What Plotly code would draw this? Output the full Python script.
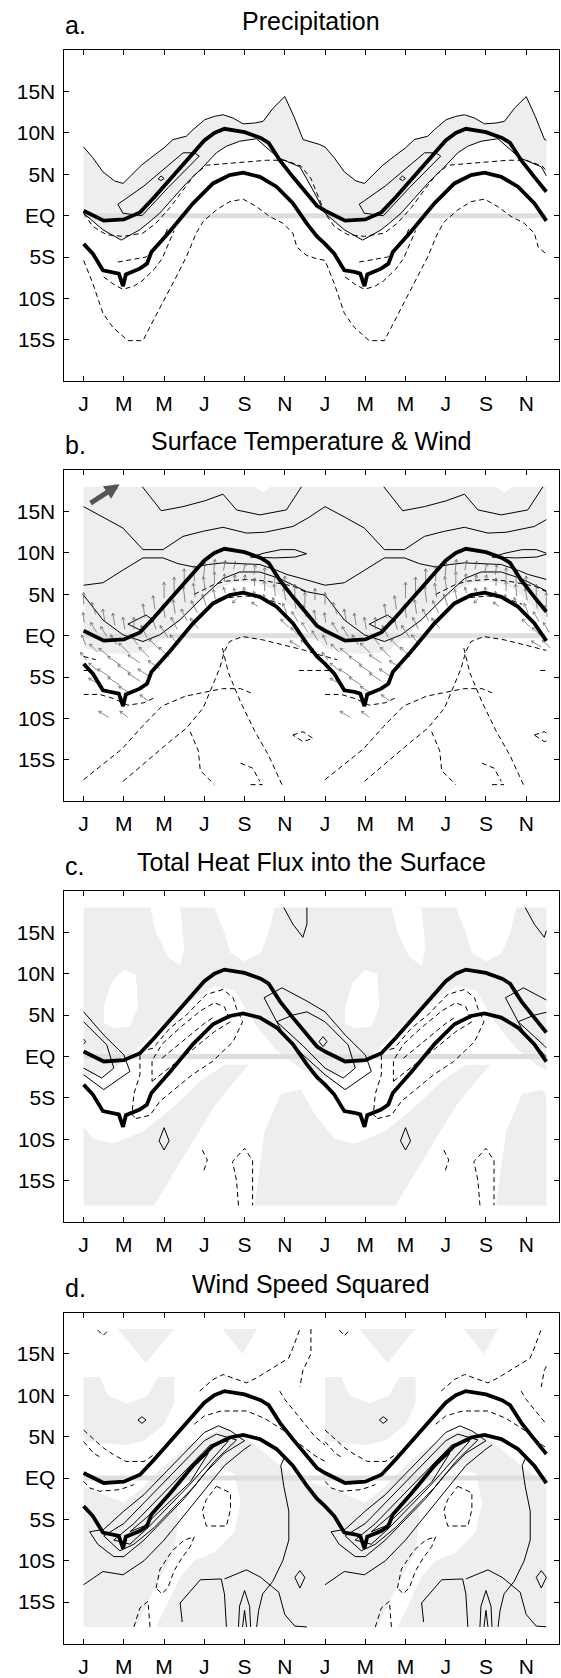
import math
import plotly.graph_objects as go

# ---------------- axis / text data ----------------
MONTH_TICKS = [0, 2, 4, 6, 8, 10, 12, 14, 16, 18, 20, 22]
MONTH_LABELS = ["J", "M", "M", "J", "S", "N", "J", "M", "M", "J", "S", "N"]
LAT_TICKS = [15, 10, 5, 0, -5, -10, -15]
LAT_LABELS = ["15N", "10N", "5N", "EQ", "5S", "10S", "15S"]
PANEL_TITLES = ["Precipitation", "Surface Temperature & Wind",
                "Total Heat Flux into the Surface", "Wind Speed Squared"]
PANEL_LETTERS = ["a.", "b.", "c.", "d."]
FIRST_MONTH, LAST_MONTH = 0.0, 23.0
DATA_TOP, DATA_BOTTOM = 18.0, -18.0

# ---------------- ITCZ edges (one annual cycle, month, latitude) ----------------
NORTH_EDGE = [(0, 0.6), (1, -0.6), (2, -0.45), (2.8, 0.4), (3.5, 2.2), (4, 3.6), (5, 6.3),
              (6, 9.1), (6.5, 10.0), (7, 10.5), (8, 10.1), (8.8, 9.4), (9.2, 8.8), (9.75, 6.7),
              (10.4, 4.7), (11.1, 2.6), (11.6, 1.2)]
SOUTH_EDGE = [(0, -3.4), (0.46, -4.6), (0.96, -6.6), (1.46, -6.8), (1.75, -7.0), (1.96, -8.5),
              (2.1, -7.1), (2.79, -6.4), (3.15, -5.8), (3.37, -4.4), (4.28, -1.9), (5.44, 1.5),
              (6.43, 3.9), (7.26, 4.9), (7.93, 5.2), (8.76, 4.7), (9.59, 3.5), (10.4, 1.5),
              (11.08, -0.9), (11.6, -2.5)]

# ---------------- a. Precipitation ----------------
A_OUTER = [(0, 8.3), (0.46, 7.0), (0.96, 5.3), (1.54, 4.2), (1.96, 3.9), (2.37, 4.9), (2.87, 6.1),
           (3.45, 7.2), (4.0, 8.2), (4.44, 9.2), (5.1, 9.6), (5.44, 10.4), (6.02, 11.6), (6.5, 12.0),
           (6.93, 12.2), (7.43, 11.8), (7.93, 11.1), (8.5, 11.2), (8.92, 11.4), (9.42, 13.0),
           (10.0, 14.4), (10.45, 12.0), (10.91, 9.2), (11.74, 8.6)]
A_INNER = [(0, 0.3), (0.96, -1.7), (1.87, -2.95), (2.79, -1.7), (3.2, -0.9), (3.78, 0.3),
           (4.44, 2.1), (5.1, 3.9), (5.94, 5.9), (6.6, 7.6), (7.1, 8.4), (7.76, 9.0), (8.59, 9.3),
           (9.67, 7.0), (10.75, 5.9), (11.4, 3.1)]
A_PARA = [(1.7, 1.4), (1.95, 0.3), (2.9, 0.0), (4.2, 3.4), (5.75, 7.2), (5.5, 7.6), (4.95, 7.6),
          (3.0, 3.6), (1.95, 1.8), (1.7, 1.4)]
A_DIAMOND = [(3.7, 4.45), (3.85, 4.8), (4.0, 4.5), (3.85, 4.25), (3.7, 4.45)]
A_DASH_OUTER = [(0, -5.4), (0.46, -8.2), (0.96, -11.8), (1.46, -13.5), (2.2, -15.1), (2.95, -15.1),
                (3.37, -13.1), (4.1, -9.8), (4.6, -7.4), (5.1, -5.0), (5.6, -2.1), (5.94, -0.7),
                (6.6, 0.7), (7.26, 1.7), (7.93, 2.0), (8.59, 1.1), (9.25, -0.1), (9.9, -0.9),
                (10.4, -2.1), (10.6, -3.8), (11.08, -4.8), (11.58, -5.2)]
A_DASH_MID = [(0, 0.3), (0.46, -1.3), (1.13, -2.3), (1.96, -2.5), (2.95, -2.1), (3.6, -0.9),
              (4.3, 1.0), (4.9, 3.0), (5.5, 4.9), (6.1, 6.1), (7.1, 6.3), (8.1, 6.5), (9.1, 6.7),
              (10.0, 6.7), (10.8, 6.0), (11.3, 4.5), (11.7, 2.0)]
A_DASH_LOW = [(1.0, -7.4), (1.5, -8.3), (1.96, -8.9), (2.5, -8.5), (2.9, -7.9), (3.5, -6.5),
              (3.9, -5.2), (4.3, -3.0), (4.5, -1.8)]
A_DASH_SEG = [(1.7, -5.6), (2.4, -5.3), (3.1, -5.0), (3.5, -4.2), (4.0, -2.6), (4.2, -1.4)]

# ---------------- b. Surface temperature & wind ----------------
B_SHADE_LOW = [(0, -1.5), (1.0, -2.1), (2.0, -2.2), (3.0, -2.0), (3.6, -1.0), (4.5, 1.0),
               (5.5, 3.5), (6.5, 5.5), (7.5, 6.5), (8.5, 6.5), (9.5, 5.5), (10.5, 3.0), (11.3, 0.5)]
B_SHADE_TOP = [(0, 18), (8.5, 18), (8.9, 17.3), (9.3, 18)]
B_S1 = [(2.92, 18), (3.86, 15.1), (4.94, 15.6), (6.02, 16.3), (6.93, 17.1), (7.6, 15.2),
        (8.76, 14.6), (10.08, 15.2), (10.83, 18)]
B_S2 = [(0, 15.6), (1.0, 14.3), (1.96, 13.0), (2.95, 10.4), (3.95, 10.4), (4.94, 12.0),
        (5.9, 12.6), (6.93, 13.1), (8.1, 12.4), (9.0, 12.5), (10.4, 13.2), (11.2, 14.3)]
B_S3 = [(0, 6.1), (0.96, 6.4), (2.0, 8.0), (2.95, 9.4), (3.95, 9.4), (4.7, 8.7), (5.5, 8.3),
        (6.2, 8.6), (6.93, 8.8), (8.76, 8.6), (9.6, 7.9), (10.1, 7.4), (11.0, 6.8)]
B_S4 = [(0, 4.9), (0.96, 1.9), (1.96, 0.1), (2.95, -0.7), (3.78, 0.1), (4.78, 1.9), (5.94, 4.7),
        (6.93, 6.9), (7.76, 7.7), (8.76, 7.7), (9.75, 6.9), (11.1, 5.3)]
B_LENS = [(8.3, 9.5), (9.0, 10.0), (9.8, 10.4), (10.5, 10.4), (11.08, 9.9), (10.5, 9.5),
          (9.5, 9.4), (8.3, 9.5)]
B_PARA = [(2.2, 1.4), (3.1, 2.5), (3.5, 1.8), (2.8, 0.7), (2.2, 1.4)]
B_DASHES = [
    [(0, -17.4), (1.0, -15.5), (1.9, -13.7), (2.9, -11.0), (3.9, -8.5), (5.06, -7.3),
     (6.0, -6.8), (6.9, -6.4), (7.8, -6.4), (8.3, -6.9)],
    [(1.96, -17.6), (3.1, -15.2), (4.28, -12.8), (5.1, -11.2), (5.94, -8.75), (6.43, -5.9),
     (6.77, -3.9), (7.0, -1.9), (7.26, -0.7), (7.9, -0.1), (8.9, -0.5), (9.9, -1.1),
     (10.9, -1.7), (11.7, -2.3), (12.6, -2.9)],
    [(6.9, -1.5), (7.2, -4.5), (7.8, -8.0), (8.5, -11.5), (9.2, -14.5), (9.86, -18.0)],
    [(5.3, -11.6), (5.7, -13.9), (5.8, -16.3), (6.5, -18.0)],
    [(7.8, -15.4), (8.4, -16.0), (8.76, -17.6)],
    [(8.3, -18.0), (8.9, -18.0)],
    [(0, -7.1), (0.8, -7.1), (1.5, -7.6), (2.2, -8.4), (3.0, -8.1), (3.6, -7.4)],
    [(10.7, -4.2), (12.4, -4.2)],
    [(10.4, -12.0), (10.9, -11.6), (11.4, -12.4), (10.9, -12.8), (10.4, -12.0)],
    [(5.5, 5.0), (6.5, 6.2), (7.1, 6.6), (8.1, 6.8), (9.1, 6.6), (10.4, 6.0), (11.1, 5.2)],
    [(6.4, 4.0), (7.2, 4.6), (8.1, 4.8), (9.0, 4.5), (9.8, 3.8)],
]
# wind vectors: month, latitude, u (eastward), v (northward) in m/s
WIND = [
    (0.0, 4.5, 0, 3), (0.0, 2.2, -0.3, 2.5), (0.0, -0.5, -1, 2.5), (0.0, -2.5, -1.5, 2),
    (0.5, 3.3, -1, 3), (0.5, 1.0, -1.5, 2.5), (0.5, -1.5, -2, 2), (0.5, -3.8, -2.5, 2),
    (0.5, -5.5, -2.5, 1.5), (1.0, 2.5, -0.5, 3), (1.0, 0.5, -1.5, 2.5), (1.0, -2.0, -2.5, 2),
    (1.0, -4.5, -3, 2), (1.0, -9.5, -2.5, 1.5), (1.5, 2.0, -0.5, 3), (1.5, -0.5, -1.5, 2.5),
    (1.5, -3.0, -3, 2), (1.5, -5.5, -3, 2), (2.0, 1.5, -0.5, 3), (2.0, -1.5, -2.5, 2.5),
    (2.0, -4.0, -3, 2), (2.0, -6.5, -2.5, 1.5), (2.0, -9.5, -2, 1.5), (2.5, 1.5, 0, 3),
    (2.5, -0.5, -2, 2.5), (2.5, -2.8, -3, 2), (2.5, -5.0, -3, 2), (3.0, 3.0, -0.5, 3.5),
    (3.0, 0.5, -1.5, 3), (3.0, -2.0, -2.5, 2.5), (3.0, -4.5, -3, 2), (3.0, -7.5, -2, 1.5),
    (3.5, 4.0, -0.5, 3.5), (3.5, 1.5, -1, 3), (3.5, -1.0, -2.5, 2.5), (3.5, -3.5, -3, 2),
    (4.0, 5.5, 0, 4), (4.0, 3.0, -0.5, 3.5), (4.0, 0.5, -2, 3), (4.0, -2.0, -2.5, 2.5),
    (4.5, 6.0, 0, 4.5), (4.5, 3.5, -0.5, 3.5), (4.5, 1.5, -1.5, 3), (4.5, -0.5, -2, 2.5),
    (5.0, 7.0, 0, 4.5), (5.0, 5.0, -0.5, 4), (5.0, 2.5, -1.5, 3), (5.5, 7.5, 0, 4),
    (5.5, 5.5, -0.5, 3.5), (5.5, 3.5, -1.5, 3), (5.5, 1.5, -2, 2.5), (6.0, 8.0, 0.3, 3.5),
    (6.0, 6.3, -0.5, 3.5), (6.0, 4.3, -1, 3), (6.5, 8.5, 0.3, 3), (6.5, 7.0, 0, 3),
    (6.5, 5.0, -0.5, 2.5), (7.0, 8.5, 0.5, 2.5), (7.0, 7.0, 0, 2), (7.0, 5.5, -0.5, 1.5),
    (7.5, 8.5, 0.5, 2), (7.5, 7.0, 0.3, 1.5), (7.5, 5.5, -0.5, 1), (7.5, 4.2, -1, -1),
    (8.0, 8.3, 0.5, 2), (8.0, 7.0, 0.3, 1.5), (8.0, 5.5, -0.5, 1.5), (8.5, 8.0, 0.3, 2.5),
    (8.5, 6.5, 0, 2), (8.5, 5.0, -0.5, 1.5), (8.5, 3.8, -1.5, 1), (9.0, 7.5, 0, 3),
    (9.0, 6.0, 0, 2.5), (9.0, 4.5, -0.5, 2), (9.5, 7.0, 0, 3), (9.5, 5.5, -0.3, 3),
    (9.5, 4.0, -1, 2.5), (10.0, 6.5, 0, 3), (10.0, 5.0, -0.5, 3), (10.0, 3.3, -1, 2.5),
    (10.0, 1.5, -2, 2), (10.5, 5.5, 0, 3), (10.5, 4.0, -0.5, 3), (10.5, 2.3, -1.5, 2.5),
    (10.5, 0.5, -2, 2), (10.5, -1.0, -2.5, 1.5), (11.0, 4.5, 0, 3), (11.0, 3.0, -0.5, 3),
    (11.0, 1.0, -1.5, 2.5), (11.0, -1.0, -2, 2), (11.5, 5.0, 0, 3), (11.5, 2.5, -0.5, 2.5),
    (11.5, 0.0, -1.5, 2.5), (11.5, -2.0, -2, 2),
]
REF_ARROW = [(0.27, 15.9), (1.79, 18.3)]

# ---------------- c. Total heat flux ----------------
C_GRAY_LOW_EDGE = [(0, -2.5), (1.5, -1.5), (2.5, 0.5), (3.5, 3.0), (4.5, 5.0), (5.5, 7.0),
                   (6.5, 8.5), (7.5, 8.0), (8.5, 4.0), (9.5, 1.0), (10.5, -1.0), (11.5, -2.5)]
C_HOLES = [
    [(1.0, 4.0), (1.5, 3.4), (2.3, 3.6), (2.7, 6.0), (2.6, 9.9), (2.0, 10.5), (1.4, 9.0), (1.0, 6.0)],
    [(6.5, 18), (7.0, 15), (7.3, 12.5), (8.0, 11.5), (8.8, 12.5), (9.2, 15), (9.5, 18)],
    [(3.3, 18), (3.6, 15), (4.2, 12.0), (4.8, 11.0), (5.0, 13.0), (4.8, 18)],
]
C_GRAY_BAND = [(-3.5, -18), (3.5, -18), (4.5, -14), (5.5, -10), (6.5, -6), (7.5, -3), (8.2, -1),
               (7.0, -1), (5.8, -3), (4.5, -6), (3.0, -9), (1.5, -10.5), (0.5, -10.0),
               (-0.5, -7.0), (-1.2, -4.0), (-2.2, -4.5), (-3.0, -9.0)]
C_OUTER = [(8.97, 7.1), (9.86, 8.3), (11.1, 6.7), (12.0, 5.4), (13.0, 2.6), (14.0, 0.2),
           (14.3, -1.8), (13.0, -4.0), (12.0, -2.2), (10.9, 0.2), (9.86, 3.0), (8.97, 7.1)]
C_MID = [(9.6, 4.2), (10.4, 5.0), (11.1, 5.4), (12.0, 4.2), (13.15, 1.4), (13.5, -1.4),
         (12.9, -2.6), (12.0, -1.4), (10.9, 1.3), (9.6, 4.2)]
C_INNER = [(11.7, 1.8), (11.9, 2.4), (12.1, 1.8), (11.9, 1.2), (11.7, 1.8)]
C_TOP = [(9.95, 18), (10.4, 16.0), (10.9, 14.4), (11.1, 16.0), (11.1, 18)]
C_DIAMOND = [(4.0, -8.6), (4.25, -10.2), (4.0, -11.3), (3.75, -10.2), (4.0, -8.6)]
C_DASHES = [
    [(2.6, -7.5), (3.3, -7.1), (3.8, -5.4), (4.6, -3.8), (5.4, -2.2), (6.4, -0.6), (7.43, 1.8),
     (7.9, 4.2), (7.6, 5.8), (7.43, 7.1), (6.93, 8.1), (6.1, 7.5), (5.1, 5.0), (4.28, 3.4),
     (3.45, 1.0), (2.8, 0.6), (2.8, -2.2), (2.5, -4.5), (2.4, -7.0), (2.6, -7.5)],
    [(3.4, -3.0), (4.2, -1.5), (5.5, 1.0), (6.5, 3.0), (7.3, 4.2), (7.0, 6.0), (6.5, 6.5),
     (5.8, 5.5), (4.8, 3.5), (3.9, 1.5), (3.4, -0.5), (3.4, -3.0)],
    [(3.9, -0.2), (4.5, 1.0), (5.3, 2.5), (6.0, 4.0), (6.5, 4.8)],
    [(5.9, -11.3), (6.15, -12.5), (5.95, -14.0)],
    [(7.7, -18), (7.6, -15), (7.4, -12.7), (8.0, -11.1), (8.4, -12.6), (8.4, -15.5), (8.4, -18)],
]

# ---------------- d. Wind speed squared ----------------
D_GRAY_TOP_EDGE = [(0, -1.0), (1.0, -2.0), (2.0, -3.0), (3.0, -1.0), (4.0, 1.5), (5.0, 3.5),
                   (6.0, 5.0), (7.0, 6.0), (8.0, 5.0), (9.0, 3.0), (10.0, 1.0), (11.0, -0.5)]
D_HOLES = [[(4.8, -1.0), (5.5, 1.0), (6.5, 1.5), (7.5, 0.5), (7.8, -3.0), (7.5, -6.5), (6.5, -9.0),
            (5.5, -10.0), (4.8, -12.0), (4.2, -15.0), (3.6, -18.0), (2.6, -18.0), (3.2, -15.0),
            (3.8, -12.0), (4.5, -9.0), (4.7, -5.0), (4.6, -2.5)]]
D_GRAY_UP = [
    [(0, 12.2), (0.8, 12.2), (1.2, 10.0), (2.2, 9.0), (3.2, 10.0), (3.7, 12.2), (4.5, 12.2),
     (4.5, 9.0), (4.0, 6.5), (3.0, 4.5), (2.0, 4.0), (1.0, 4.2), (0, 4.5)],
    [(1.7, 18), (4.5, 18), (3.1, 13.9)],
    [(6.9, 18), (8.6, 18), (7.9, 15.0)],
]
D_LOOPS = [
    [(0.3, -6.5), (1.0, -6.2), (2.0, -4.0), (3.0, -2.0), (4.0, 0.5), (5.0, 3.0), (6.0, 5.5),
     (6.7, 6.3), (7.3, 5.7), (8.0, 4.5), (7.0, 3.0), (6.0, 0.5), (5.0, -2.5), (4.0, -5.0),
     (3.0, -7.5), (2.0, -9.5), (1.5, -9.5), (0.7, -8.0), (0.3, -6.5)],
    [(1.0, -7.0), (2.0, -5.5), (3.0, -3.0), (4.0, -0.5), (5.0, 2.0), (6.0, 4.5), (6.6, 5.3),
     (7.6, 4.6), (6.5, 2.0), (5.5, -1.0), (4.5, -3.5), (3.5, -6.0), (2.5, -8.0), (1.8, -8.8),
     (1.0, -7.0)],
    [(1.5, -7.5), (2.5, -5.5), (3.5, -3.0), (4.5, -0.5), (5.5, 2.0), (6.3, 4.0), (7.2, 4.5),
     (6.3, 2.0), (5.2, -1.0), (4.2, -3.5), (3.2, -6.0), (2.3, -8.0), (1.5, -7.5)],
    [(2.3, -6.5), (3.5, -4.0), (4.5, -1.5), (5.5, 1.5), (6.2, 3.0), (5.3, -0.5), (4.0, -3.5),
     (3.0, -5.8), (2.3, -6.5)],
]
D_SOLIDS = [
    [(0, -12.9), (0.96, -11.3), (1.96, -11.7), (3.0, -10.0), (4.0, -7.5), (5.0, -4.5),
     (6.0, -1.5), (7.0, 1.5), (8.0, 3.5), (8.3, 4.0)],
    [(10.0, 2.6), (9.8, 1.5), (9.95, -1.0), (10.2, -4.0), (10.2, -7.5), (9.9, -10.0),
     (9.4, -12.5), (8.9, -14.0), (8.7, -16.0), (8.6, -18.0)],
    [(4.9, -17.4), (4.8, -15.1), (5.8, -12.3), (6.84, -12.2), (7.0, -14.0), (7.1, -18)],
    [(7.0, -12.2), (8.1, -11.1), (8.8, -12.0), (9.7, -13.8), (10.0, -16.5), (10.5, -17.9), (11.1, -18)],
    [(7.7, -18), (7.75, -15.5), (8.0, -13.6), (8.25, -15.5), (8.3, -18)],
    [(7.9, -18), (8.0, -16.0), (8.1, -18)],
    [(10.5, -12.0), (10.75, -11.2), (11.0, -12.0), (10.75, -13.3), (10.5, -12.0)],
    [(2.7, 7.0), (2.9, 7.4), (3.1, 7.0), (2.9, 6.6), (2.7, 7.0)],
]
D_DASHES = [
    [(0, 5.8), (0.5, 4.7), (1.0, 3.6), (1.5, 2.8), (2.1, 2.0), (3.0, 2.0), (3.6, 3.0)],
    [(0, 4.4), (0.5, 3.0), (0.9, 2.4)],
    [(0, -0.4), (0.3, -1.2), (0.8, -1.6), (1.8, -1.4), (2.5, -0.8)],
    [(5.77, 10.5), (6.43, 11.9), (6.93, 12.5), (7.6, 11.9), (8.1, 11.5), (8.6, 12.1), (9.4, 13.3),
     (10.2, 14.5), (10.4, 15.7), (10.75, 18.0)],
    [(5.5, 6.5), (6.0, 7.5), (6.84, 8.1), (8.1, 8.1), (9.0, 7.2), (9.9, 5.8), (10.8, 4.0),
     (11.5, 2.7), (12.0, 2.0)],
    [(11.3, 18), (11.3, 15), (10.9, 13), (10.75, 11)],
    [(9.75, 10.5), (10.0, 9.5), (10.5, 8.0), (11.0, 6.5), (11.5, 5.0), (12.0, 4.0)],
    [(6.6, -1.0), (7.3, -1.8), (7.3, -3.8), (7.1, -5.8), (6.1, -5.8), (5.9, -4.0), (6.1, -2.6),
     (6.6, -1.0)],
    [(3.6, -13.3), (3.8, -11.0), (4.4, -8.8), (5.0, -7.5), (5.5, -7.1), (5.3, -8.3), (4.9, -9.6),
     (4.5, -11.2), (4.2, -13.2), (3.9, -14.0), (3.6, -13.3)],
    [(2.5, -18), (2.8, -15.7), (3.2, -14.9), (3.3, -18)],
    [(0.7, 17.9), (0.96, 17.2), (1.2, 17.8)],
]

# ---------------- layout geometry (pixels) ----------------
W, H = 561, 1678
PLOT_LEFT, PLOT_RIGHT = 63.5, 559.0
PANEL_TOPS = [50.2, 470.2, 891.0, 1312.5]
PANEL_H = 331.0
X_RANGE = [-1.0, 23.63]
Y_RANGE = [-20.0, 20.0]
FONT = "Liberation Sans, Arial, Helvetica, sans-serif"
SHADE = "#eeeeee"
PERIOD = 12.0


# ---------------- helpers ----------------
def clip_seg(p, q, lo, hi):
    (xa, ya), (xb, yb) = p, q
    dx = xb - xa
    t0, t1 = 0.0, 1.0
    if abs(dx) < 1e-12:
        if xa < lo or xa > hi:
            return None
    else:
        ta, tb = (lo - xa) / dx, (hi - xa) / dx
        t0, t1 = max(t0, min(ta, tb)), min(t1, max(ta, tb))
        if t0 > t1:
            return None
    return (xa + t0 * dx, ya + t0 * (yb - ya)), (xa + t1 * dx, ya + t1 * (yb - ya))


def clip_line(pts, lo=FIRST_MONTH, hi=LAST_MONTH):
    xs, ys, last = [], [], None
    for p, q in zip(pts[:-1], pts[1:]):
        seg = clip_seg(p, q, lo, hi)
        if seg is None:
            continue
        a, b = seg
        if last is None or abs(last[0] - a[0]) > 1e-9 or abs(last[1] - a[1]) > 1e-9:
            if xs:
                xs.append(None)
                ys.append(None)
            xs.append(a[0])
            ys.append(a[1])
        xs.append(b[0])
        ys.append(b[1])
        last = b
    return xs, ys


def tile_periodic(pts):
    out = []
    for s in (-PERIOD, 0.0, PERIOD, 2 * PERIOD):
        out += [(x + s, y) for x, y in pts]
    return out


def periodic_xy(pts):
    return clip_line(tile_periodic(pts))


def copies_xy(list_of_pts):
    xs, ys = [], []
    for pts in list_of_pts:
        for s in (-PERIOD, 0.0, PERIOD):
            cx, cy = clip_line([(x + s, y) for x, y in pts])
            if cx:
                if xs:
                    xs.append(None)
                    ys.append(None)
                xs += cx
                ys += cy
    return xs, ys


def clip_polygon(poly, lo=FIRST_MONTH, hi=LAST_MONTH):
    def one(poly, inside, x0):
        out = []
        for i in range(len(poly)):
            cur, prev = poly[i], poly[i - 1]
            if inside(cur):
                if not inside(prev):
                    t = (x0 - prev[0]) / (cur[0] - prev[0])
                    out.append((x0, prev[1] + t * (cur[1] - prev[1])))
                out.append(cur)
            elif inside(prev):
                t = (x0 - prev[0]) / (cur[0] - prev[0])
                out.append((x0, prev[1] + t * (cur[1] - prev[1])))
        return out
    poly = one(poly, lambda p: p[0] >= lo, lo)
    if poly:
        poly = one(poly, lambda p: p[0] <= hi, hi)
    return poly


def band_polygon(upper, lower):
    up = tile_periodic(upper)
    lw = tile_periodic(lower)
    return clip_polygon(up + lw[::-1])


def polys_xy(polys):
    xs, ys = [], []
    for poly in polys:
        if not poly:
            continue
        if xs:
            xs.append(None)
            ys.append(None)
        xs += [p[0] for p in poly] + [poly[0][0]]
        ys += [p[1] for p in poly] + [poly[0][1]]
    return xs, ys


def tiled_polys(polys):
    out = []
    for poly in polys:
        for s in (-PERIOD, 0.0, PERIOD, 2 * PERIOD):
            c = clip_polygon([(x + s, y) for x, y in poly])
            if c:
                out.append(c)
    return out


fig = go.Figure()


def add_fill(k, polys, color):
    xs, ys = polys_xy(polys)
    fig.add_trace(go.Scatter(x=xs, y=ys, mode="lines", fill="toself", fillcolor=color,
                             line=dict(width=0, color=color), hoverinfo="skip",
                             xaxis=f"x{k}", yaxis=f"y{k}"))


def add_line(k, xs, ys, width=1.0, dash=None, color="black"):
    ln = dict(width=width, color=color)
    if dash:
        ln["dash"] = dash
    fig.add_trace(go.Scatter(x=xs, y=ys, mode="lines", line=ln, hoverinfo="skip",
                             xaxis=f"x{k}", yaxis=f"y{k}"))


DASH = "5px,3.5px"
full_top = [(0, DATA_TOP)]

# ----- panel shading -----
add_fill(1, [band_polygon(A_OUTER, A_INNER)], SHADE)
add_fill(2, [band_polygon(B_SHADE_TOP, B_SHADE_LOW)], SHADE)
add_fill(3, [band_polygon(full_top, C_GRAY_LOW_EDGE)] + tiled_polys([C_GRAY_BAND]), SHADE)
add_fill(3, tiled_polys(C_HOLES), "white")
add_fill(4, [band_polygon(D_GRAY_TOP_EDGE, [(0, DATA_BOTTOM)])] + tiled_polys(D_GRAY_UP), SHADE)
add_fill(4, tiled_polys(D_HOLES), "white")

# ----- equator line -----
for k in range(1, 5):
    add_line(k, [FIRST_MONTH, LAST_MONTH], [0, 0], width=5, color="#dedede")

# ----- contours -----
xs, ys = periodic_xy(A_OUTER); add_line(1, xs, ys)
xs, ys = periodic_xy(A_INNER); add_line(1, xs, ys)
xs, ys = copies_xy([A_PARA, A_DIAMOND]); add_line(1, xs, ys)
xs, ys = periodic_xy(A_DASH_OUTER); add_line(1, xs, ys, dash=DASH)
xs, ys = periodic_xy(A_DASH_MID); add_line(1, xs, ys, dash=DASH)
xs, ys = copies_xy([A_DASH_LOW, A_DASH_SEG]); add_line(1, xs, ys, dash=DASH)

for pts in (B_S2, B_S3, B_S4):
    xs, ys = periodic_xy(pts); add_line(2, xs, ys)
xs, ys = copies_xy([B_S1, B_LENS, B_PARA]); add_line(2, xs, ys)
xs, ys = copies_xy(B_DASHES); add_line(2, xs, ys, dash=DASH)

# wind arrows
PX_PER_MONTH = (PLOT_RIGHT - PLOT_LEFT) / (X_RANGE[1] - X_RANGE[0])
PX_PER_DEG = PANEL_H / (Y_RANGE[1] - Y_RANGE[0])
ARROW_PX_PER_MS = 4.0
HEAD_PX = 3.2
ax_, ay_ = [], []
for s in (0.0, PERIOD):
    for (m, lat, u, v) in WIND:
        x0 = m + s
        if x0 > LAST_MONTH:
            continue
        dxp, dyp = u * ARROW_PX_PER_MS, v * ARROW_PX_PER_MS
        if math.hypot(dxp, dyp) < 1e-6:
            continue
        tx, ty = x0 - dxp / 2 / PX_PER_MONTH, lat - dyp / 2 / PX_PER_DEG
        hx, hy = x0 + dxp / 2 / PX_PER_MONTH, lat + dyp / 2 / PX_PER_DEG
        ang = math.atan2(dyp, dxp)
        ax_ += [tx, hx, None]
        ay_ += [ty, hy, None]
        for da in (2.6, -2.6):
            bx = hx + HEAD_PX * math.cos(ang + da) / PX_PER_MONTH
            by = hy + HEAD_PX * math.sin(ang + da) / PX_PER_DEG
            ax_ += [hx, bx, None]
            ay_ += [hy, by, None]
add_line(2, ax_, ay_, width=0.75, color="#666666")

xs, ys = copies_xy([C_OUTER, C_MID, C_INNER, C_TOP, C_DIAMOND]); add_line(3, xs, ys)
xs, ys = copies_xy(C_DASHES); add_line(3, xs, ys, dash=DASH)

xs, ys = copies_xy(D_LOOPS + D_SOLIDS); add_line(4, xs, ys)
xs, ys = copies_xy(D_DASHES); add_line(4, xs, ys, dash=DASH)

# ----- ITCZ edges (thick) -----
for k in range(1, 5):
    for edge in (NORTH_EDGE, SOUTH_EDGE):
        xs, ys = periodic_xy(edge)
        add_line(k, xs, ys, width=3.8)

# ----- axes -----
layout = dict(width=W, height=H, margin=dict(l=0, r=0, t=0, b=0),
              paper_bgcolor="white", plot_bgcolor="white", showlegend=False,
              font=dict(family=FONT, size=21, color="black"))
annotations = []
for i in range(4):
    k = i + 1
    top = PANEL_TOPS[i]
    bot = top + PANEL_H
    sfx = "" if k == 1 else str(k)
    layout[f"xaxis{sfx}"] = dict(
        domain=[PLOT_LEFT / W, PLOT_RIGHT / W], range=X_RANGE, anchor=f"y{k}",
        tickvals=MONTH_TICKS, ticktext=MONTH_LABELS, ticks="inside", ticklen=5,
        tickwidth=1, tickcolor="black", showline=True, linecolor="black", linewidth=1,
        mirror="allticks", showgrid=False, zeroline=False, ticklabelstandoff=4,
        tickfont=dict(family=FONT, size=21, color="black"))
    layout[f"yaxis{sfx}"] = dict(
        domain=[1 - bot / H, 1 - top / H], range=Y_RANGE, anchor=f"x{k}",
        tickvals=LAT_TICKS, ticktext=LAT_LABELS, ticks="inside", ticklen=5,
        tickwidth=1, tickcolor="black", showline=True, linecolor="black", linewidth=1,
        mirror="allticks", showgrid=False, zeroline=False, ticklabelstandoff=3,
        tickfont=dict(family=FONT, size=21, color="black"))
    annotations.append(dict(text=PANEL_TITLES[i], xref="paper", yref="paper",
                            x=(PLOT_LEFT + PLOT_RIGHT) / 2 / W, y=1 - (top - 29) / H,
                            xanchor="center", yanchor="middle", showarrow=False,
                            font=dict(family=FONT, size=25, color="black")))
    annotations.append(dict(text=PANEL_LETTERS[i], xref="paper", yref="paper",
                            x=(PLOT_LEFT - 1) / W, y=1 - (top - 25) / H,
                            xanchor="left", yanchor="middle", showarrow=False,
                            font=dict(family=FONT, size=25, color="black")))

annotations.append(dict(x=REF_ARROW[1][0], y=REF_ARROW[1][1], ax=REF_ARROW[0][0],
                        ay=REF_ARROW[0][1], xref="x2", yref="y2", axref="x2", ayref="y2",
                        showarrow=True, arrowhead=2, arrowsize=0.6, arrowwidth=5,
                        arrowcolor="#555555", text=""))
layout["annotations"] = annotations
fig.update_layout(**layout)
fig.write_html("out.html", config={"displayModeBar": False},
               post_script="document.body.style.margin='0';")
